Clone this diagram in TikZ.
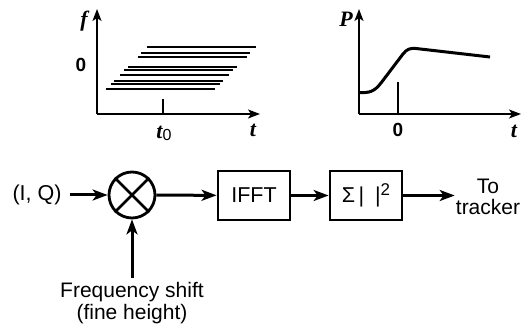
\documentclass[tikz,border=0pt]{standalone}
\usepackage{fontspec}
\setmainfont{Liberation Sans}
\newfontfamily\serifb{Liberation Serif}
\usetikzlibrary{arrows.meta}
\tikzset{
  axis/.style={line width=1.8pt,-{Stealth[length=12pt,width=9pt,inset=3pt]}},
  ln/.style={line width=3pt,-{Stealth[length=15pt,width=11pt,inset=4pt]}},
  blk/.style={draw,line width=2.8pt,minimum width=72pt,minimum height=49pt,inner sep=0pt},
  txt/.style={font=\fontsize{21.5}{23}\selectfont,inner sep=2pt},
  ax/.style={font=\fontsize{22}{23}\selectfont\serifb\bfseries\itshape,inner sep=0pt},
  zero/.style={font=\fontsize{19}{21}\selectfont\bfseries,inner sep=0pt},
  sweep/.style={line width=2.3pt},
}
\begin{document}
\begin{tikzpicture}[x=1pt,y=-1pt]
\useasboundingbox (0,0) rectangle (522,328);
% left plot
\draw[axis] (97,114) -- (97,9);
\draw[axis] (97,114) -- (260,114);
\node[ax] (lf) at (84,21) {f};
\node[ax] (lt) at (253,130) {t};
\node[zero] (lz) at (81,65) {0};
\node[inner sep=0pt] (lt0) at (164,133) {{\fontsize{22}{23}\selectfont\serifb\bfseries\itshape t}\raisebox{-0.4ex}{\fontsize{16}{18}\selectfont 0}};
\draw[line width=1.8pt] (163,99) -- (163,114);
\foreach \y/\a in {47.3/147,53.3/141,57.3/138,66.7/128,70/124,75/120,81/114,84/111,89.3/106}
  \draw[sweep] (\a,\y) -- ({\a+109},\y);
% right plot
\draw[axis] (359,114) -- (359,9);
\draw[axis] (359,114) -- (521,114);
\node[ax] (rp) at (346,19) {P};
\node[ax] (rt) at (514,131) {t};
\node[zero] (rz) at (398,130) {0};
\draw[line width=1.8pt] (398,82) -- (398,114);
\draw[line width=3pt,line join=round] (359,92.5) .. controls (369,93) and (374,92) .. (381,83)
  -- (403,54) .. controls (407,49) and (410,48) .. (416,48.5) -- (490,57);
% block diagram
\node[txt,inner xsep=8pt] (iq) at (37,195) {(I, Q)};
\node[draw,circle,line width=2.8pt,minimum size=46pt,inner sep=0pt] (mix) at (132,195) {};
\draw[line width=2.8pt] (mix.north west) -- (mix.south east);
\draw[line width=2.8pt] (mix.north east) -- (mix.south west);
\node[blk,txt,inner sep=0pt] (ifft) at (254,195.5) {IFFT};
\node[blk,txt,inner sep=0pt] (sum) at (366,195.5) {Σ\,|\hspace{0.5em}|\raisebox{0.3em}{\fontsize{17}{18}\selectfont 2}};
\node[txt,align=center,inner sep=1pt,font=\fontsize{21}{21}\selectfont] (trk) at (488,197) {To\\tracker};
\node[txt,align=center,anchor=north,inner ysep=4pt,font=\fontsize{21}{22}\selectfont] (fs) at (132,278) {Frequency shift\\(fine height)};
\draw[ln] (iq) -- (mix);
\draw[ln] (mix) -- (ifft);
\draw[ln] (ifft) -- (sum);
\draw[ln] (sum.east) -- (sum.east -| trk.west);
\draw[ln] (fs) -- (mix);
\end{tikzpicture}
\end{document}
